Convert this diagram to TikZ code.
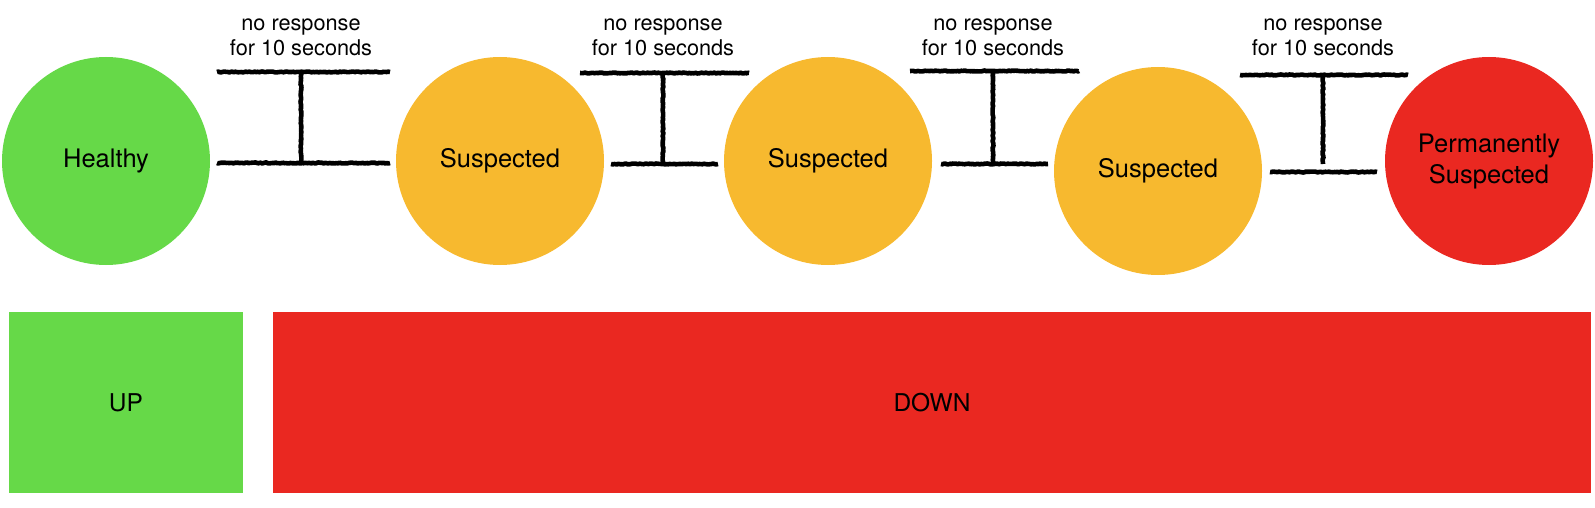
\documentclass[tikz,border=0pt]{standalone}
\usepackage{fontspec}
\setmainfont{TeX Gyre Heros}
\usetikzlibrary{decorations.pathmorphing}

\definecolor{okgreen}{RGB}{102,217,72}
\definecolor{susporange}{RGB}{247,185,47}
\definecolor{downred}{RGB}{234,40,33}

\tikzset{
  state/.style={circle,minimum size=208pt,inner sep=0pt,align=center,
    font=\fontsize{25.5}{31}\selectfont},
  band/.style={inner sep=0pt,minimum height=181pt,font=\fontsize{24.5}{29}\selectfont},
  gapbar/.style={line width=4.6pt,line join=round,decorate,
    decoration={random steps,segment length=1.5pt,amplitude=0.5pt}},
  gaplabel/.style={align=center,font=\fontsize{21.7}{25}\selectfont}
}

\begin{document}
\begin{tikzpicture}[x=1pt,y=-1pt]
\useasboundingbox (0,0) rectangle (1595,508);

% states
\node[state,fill=okgreen] (healthy) at (106,161) {Healthy};
\node[state,fill=susporange] (susp1) at (500,161) {Suspected};
\node[state,fill=susporange] (susp2) at (828,161) {Suspected};
\node[state,fill=susporange] (susp3) at (1158,171) {Suspected};
\node[state,fill=downred] (perm) at (1489,161) {Permanently\\Suspected};

% up / down bands
\node[band,fill=okgreen,minimum width=234pt] (up) at (126,402.5) {UP};
\node[band,fill=downred,minimum width=1318pt] (down) at (932,402.5) {DOWN};

% gaps between the states
\foreach \n/\tl/\tr/\ty/\mx/\my/\bl/\br/\by in {
  1/217/390/72/301/163/217/390/163,
  2/580/749/73/663/164/611/718/164,
  3/910/1079/71/993/164/941/1048/164,
  4/1240/1408/75/1323/164/1270/1377/172} {
  \coordinate (topL\n) at (\tl,\ty);
  \coordinate (topR\n) at (\tr,\ty);
  \coordinate (topM\n) at (\mx,\ty);
  \coordinate (botM\n) at (\mx,\my);
  \coordinate (botL\n) at (\bl,\by);
  \coordinate (botR\n) at (\br,\by);
  \draw[gapbar] (topL\n) -- (topR\n);
  \draw[gapbar] (topM\n) -- (botM\n);
  \draw[gapbar] (botL\n) -- (botR\n);
  \node[gaplabel] (note\n) at (\mx,37) {no response\\for 10 seconds};
}
\end{tikzpicture}
\end{document}
